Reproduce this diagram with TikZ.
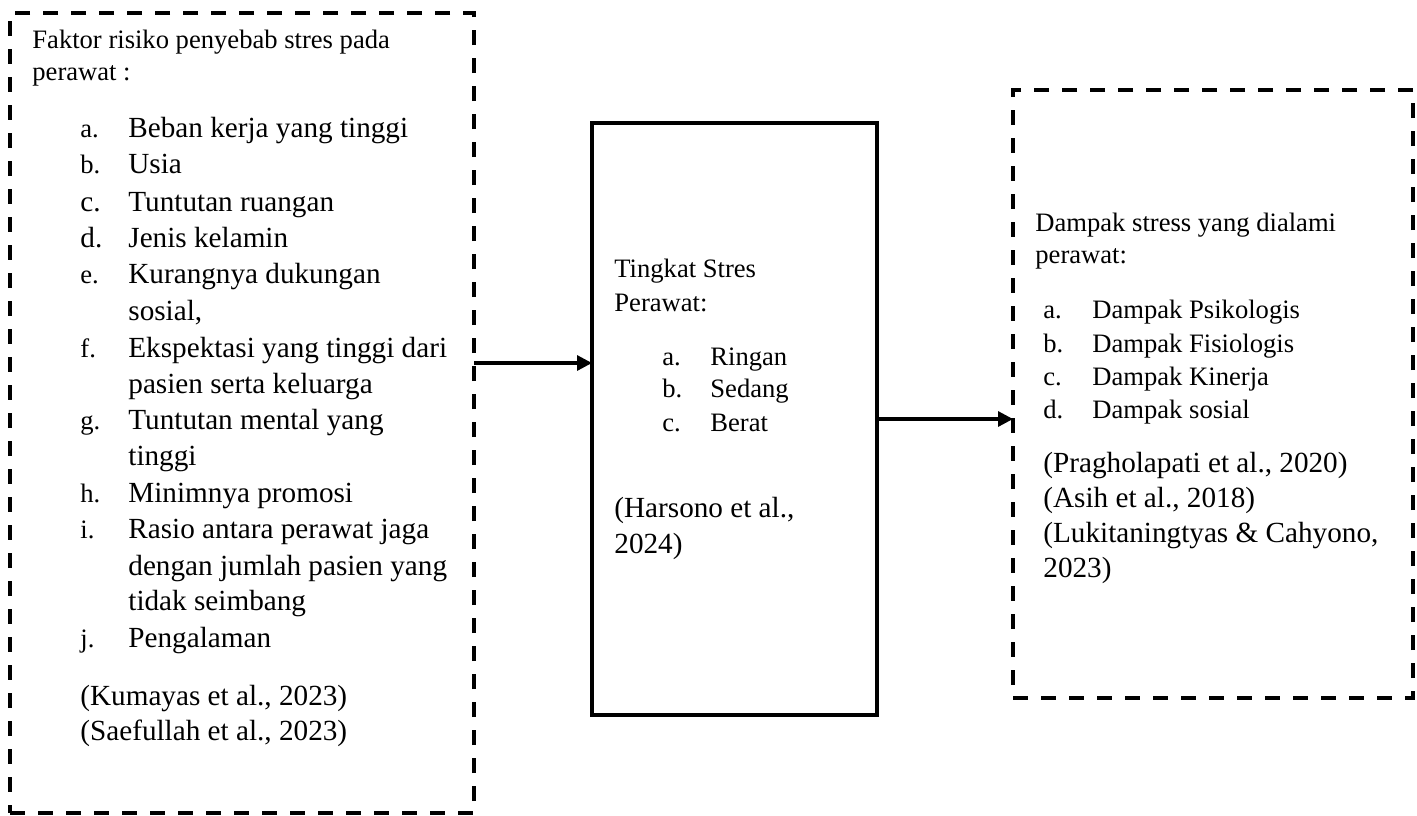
\documentclass[tikz,border=0pt]{standalone}
\usepackage{fontspec}
\setmainfont{Liberation Serif}
\usepackage{tikz}
\usetikzlibrary{arrows.meta}

\begin{document}
\begin{tikzpicture}[x=0.5pt, y=-0.5pt,
        dashbox/.style={draw, line width=2pt, dash pattern=on 7.5pt off 6.5pt, inner sep=0pt, outer sep=0pt},
        solidbox/.style={draw, line width=2pt, inner sep=0pt, outer sep=0pt},
        small/.style={anchor=base west, inner sep=0pt, font=\fontsize{13.3}{16}\selectfont},
        big/.style={anchor=base west, inner sep=0pt, font=\fontsize{14.6}{18}\selectfont},
        link/.style={line width=1.6pt, -{Triangle[length=7.5pt,width=7.5pt]}}]
            \useasboundingbox (0,0) rectangle (1417,815);

            % Define the three boxes
            \node[dashbox, minimum width=232pt, minimum height=400pt] (faktor) at (242,413) {};
            \node[solidbox, minimum width=142.5pt, minimum height=296pt] (tingkat) at (734.5,419) {};
            \node[dashbox, minimum width=200pt, minimum height=304pt] (dampak) at (1213,394) {};

            % Left box: risk factors
            \node[small] (fk_h1) at (32,48) {Faktor risiko penyebab stres pada};
            \node[small] (fk_h2) at (32,80) {perawat :};
            \node[small] (fk_a) at (80,137) {a.};
            \node[big] (fk_a_t) at (128,137) {Beban kerja yang tinggi};
            \node[small] (fk_b) at (80,173) {b.};
            \node[big] (fk_b_t) at (128,173) {Usia};
            \node[big] (fk_c) at (80,211) {c.};
            \node[big] (fk_c_t) at (128,211) {Tuntutan ruangan};
            \node[big] (fk_d) at (80,247) {d.};
            \node[big] (fk_d_t) at (128,247) {Jenis kelamin};
            \node[small] (fk_e) at (80,283) {e.};
            \node[big] (fk_e_t) at (128,283) {Kurangnya dukungan};
            \node[big] (fk_e_t2) at (128,320) {sosial,};
            \node[small] (fk_f) at (80,357) {f.};
            \node[big] (fk_f_t) at (128,357) {Ekspektasi yang tinggi dari};
            \node[big] (fk_f_t2) at (128,393) {pasien serta keluarga};
            \node[small] (fk_g) at (80,429) {g.};
            \node[big] (fk_g_t) at (128,429) {Tuntutan mental yang};
            \node[big] (fk_g_t2) at (128,465) {tinggi};
            \node[small] (fk_h) at (80,502) {h.};
            \node[big] (fk_h_t) at (128,502) {Minimnya promosi};
            \node[small] (fk_i) at (80,538) {i.};
            \node[big] (fk_i_t) at (128,538) {Rasio antara perawat jaga};
            \node[big] (fk_i_t2) at (128,575) {dengan jumlah pasien yang};
            \node[big] (fk_i_t3) at (128,610) {tidak seimbang};
            \node[small] (fk_j) at (80,647) {j.};
            \node[big] (fk_j_t) at (128,647) {Pengalaman};
            \node[big] (fk_ref1) at (80,705) {(Kumayas et al., 2023)};
            \node[big] (fk_ref2) at (80,740) {(Saefullah et al., 2023)};

            % Middle box: stress level
            \node[small] (tk_h1) at (614,277) {Tingkat Stres};
            \node[small] (tk_h2) at (614,311) {Perawat:};
            \node[small] (tk_a) at (662,365) {a.};
            \node[small] (tk_a_t) at (710,365) {Ringan};
            \node[small] (tk_b) at (662,397) {b.};
            \node[small] (tk_b_t) at (710,397) {Sedang};
            \node[small] (tk_c) at (662,431) {c.};
            \node[small] (tk_c_t) at (710,431) {Berat};
            \node[big] (tk_ref1) at (614,517) {(Harsono et al.,};
            \node[big] (tk_ref2) at (614,553) {2024)};

            % Right box: impact of stress
            \node[small] (dp_h1) at (1035,231) {Dampak stress yang dialami};
            \node[small] (dp_h2) at (1035,263) {perawat:};
            \node[small] (dp_a) at (1043,318) {a.};
            \node[small] (dp_a_t) at (1092,318) {Dampak Psikologis};
            \node[small] (dp_b) at (1043,352) {b.};
            \node[small] (dp_b_t) at (1092,352) {Dampak Fisiologis};
            \node[small] (dp_c) at (1043,385) {c.};
            \node[small] (dp_c_t) at (1092,385) {Dampak Kinerja};
            \node[small] (dp_d) at (1043,418) {d.};
            \node[small] (dp_d_t) at (1092,418) {Dampak sosial};
            \node[big] (dp_ref1) at (1043,472) {(Pragholapati et al., 2020)};
            \node[big] (dp_ref2) at (1043,507) {(Asih et al., 2018)};
            \node[big] (dp_ref3) at (1043,542) {(Lukitaningtyas \& Cahyono,};
            \node[big] (dp_ref4) at (1043,577) {2023)};

            % Draw arrows
            \coordinate (a_1) at (0,363);
            \draw[link] (faktor.east |- a_1) -- (tingkat.west |- a_1);
            \draw[link] (tingkat.east) -- (dampak.west |- tingkat.east);
        \end{tikzpicture}
\end{document}
